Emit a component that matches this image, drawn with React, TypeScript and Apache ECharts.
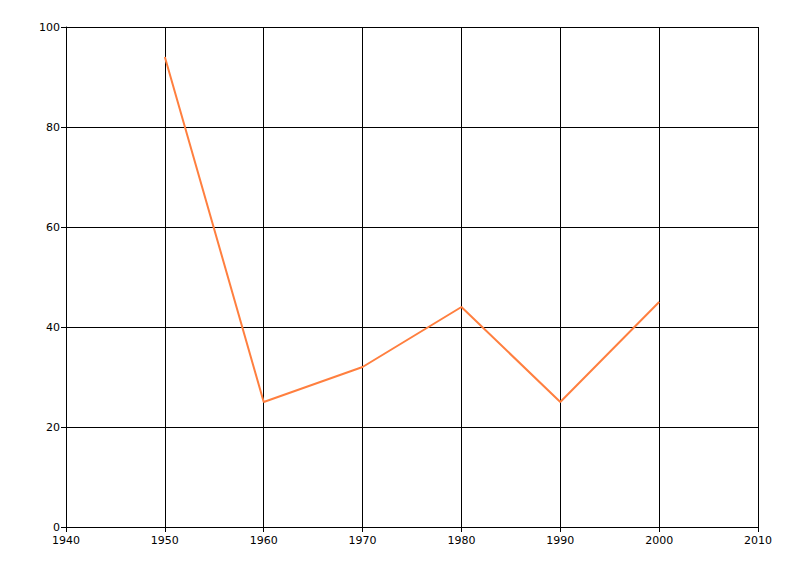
import { useEffect, useRef } from 'react';
import * as echarts from 'echarts';

const years = [1950, 1960, 1970, 1980, 1990, 2000];
const values = [94, 25, 32, 44, 25, 45];

export default function App() {
  const chartRef = useRef<HTMLDivElement>(null);

  useEffect(() => {
    if (!chartRef.current) return;
    const chart = echarts.init(chartRef.current, undefined, { renderer: 'svg' });

    const axisLine = { show: true, lineStyle: { color: '#000', width: 1 } };
    const splitLine = { show: true, lineStyle: { color: '#000', width: 1 } };
    const axisLabel = { color: '#000', fontSize: 11, fontFamily: 'DejaVu Sans' };

    const option: echarts.EChartsOption = {
      animation: false,
      backgroundColor: '#fff',
      grid: { left: 66, right: 42, top: 27, bottom: 49 },
      xAxis: {
        type: 'value',
        min: 1940,
        max: 2010,
        interval: 10,
        axisLine,
        axisTick: { show: true, length: 5, lineStyle: { color: '#000' } },
        axisLabel: { ...axisLabel, margin: 8, formatter: (v: number) => String(v) },
        splitLine,
      },
      yAxis: {
        type: 'value',
        min: 0,
        max: 100,
        interval: 20,
        axisLine,
        axisTick: { show: true, length: 5, lineStyle: { color: '#000' } },
        axisLabel: { ...axisLabel, margin: 6 },
        splitLine,
      },
      series: [
        {
          type: 'line',
          data: years.map((y, i) => [y, values[i]]),
          symbol: 'none',
          lineStyle: { color: '#FF7F3F', width: 2 },
        },
      ],
    };

    chart.setOption(option);
    return () => chart.dispose();
  }, []);

  return (
    <div
      ref={chartRef}
      style={{ position: 'fixed', left: 0, top: 0, width: 800, height: 576 }}
    />
  );
}
